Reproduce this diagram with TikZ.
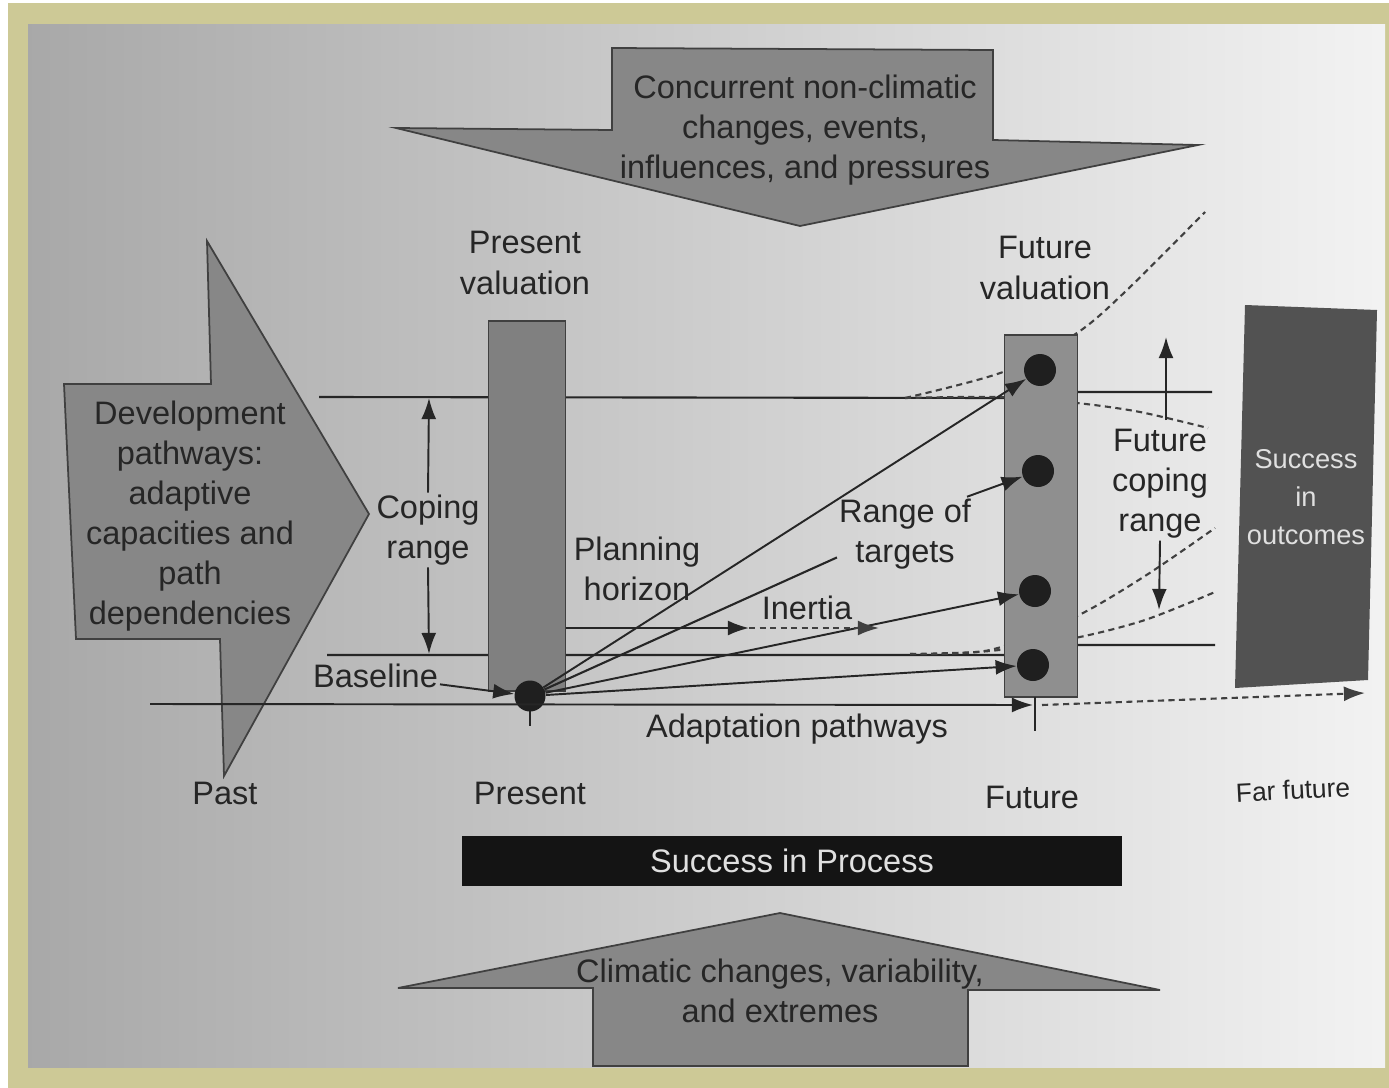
\documentclass[tikz,border=0pt]{standalone}
\usepackage{fontspec}
\setmainfont{Liberation Sans}
\usetikzlibrary{arrows,arrows.meta}
\definecolor{framekhaki}{RGB}{205,201,150}

\begin{document}
\begin{tikzpicture}[x=0.02cm,y=-0.02cm]
\tikzset{edge/.style = {-{Latex[length=12pt,width=8.5pt]}, line width=1.1pt, color=black!85},
  line/.style = {line width=1.2pt, draw=black!85},
  dashline/.style = {line width=1.2pt, draw=black!75, dash pattern=on 3.5pt off 2.5pt},
  blockarrow/.style = {draw=black!75, fill=black!47, line width=1pt},
  bar/.style = {draw=black!75, fill=black!50, line width=1pt, minimum width=1.54cm},
  dot/.style = {shape=circle, fill=black!88, minimum size=0.62cm, inner sep=0pt},
  lbl/.style = {align=center, font=\fontsize{18.5}{22.8}\selectfont, text=black!85, inner sep=1pt}}

\useasboundingbox (0,0) rectangle (1389,1088);
\fill[white] (0,0) rectangle (1389,1088);
\fill[framekhaki] (8,3) rectangle (1389,1088);
\shade[left color=black!34, middle color=black!24, right color=black!5] (28,25) rectangle (1385,1067);

\draw[blockarrow] (612,48) -- (993,50) -- (993,140) -- (1198,145) -- (800,226) -- (396,128) -- (612,130) -- cycle;
\draw[blockarrow] (64,384) -- (211,384) -- (207,241) -- (369,514) -- (224,776) -- (220,639) -- (76,639) -- cycle;
\draw[blockarrow] (593,1066) -- (593,988) -- (398,988) -- (780,913) -- (1160,990) -- (968,990) -- (968,1066) -- cycle;
\fill[black!68] (1245,305) -- (1377,310) -- (1368,680) -- (1235,688) -- cycle;

\coordinate (CT1) at (319,397);
\coordinate (CT2) at (1005,398);
\coordinate (CB1) at (327,655);
\coordinate (CB2) at (1005,655);
\coordinate (FT1) at (1078,392);
\coordinate (FT2) at (1212,392);
\coordinate (FB1) at (1075,645);
\coordinate (FB2) at (1215,645);
\coordinate (CopeUp) at (429,398);
\coordinate (CopeDown) at (429,654);
\coordinate (FutUp0) at (1166,420);
\coordinate (FutUp) at (1166,337);
\coordinate (FutDown) at (1159,610);
\coordinate (Axis0) at (150,704);
\coordinate (Axis1) at (1033,705);
\coordinate (Far0) at (1042,705);
\coordinate (Far1) at (1365,693);
\coordinate (NowTick) at (530,726);
\coordinate (FutTick0) at (1035,697);
\coordinate (FutTick1) at (1035,731);
\coordinate (Horizon0) at (566,628);
\coordinate (Horizon1) at (749,628);
\coordinate (Horizon2) at (879,628);

\draw[line] (CT1) -- (CT2) (CB1) -- (CB2) (FT1) -- (FT2) (FB1) -- (FB2);
\draw[dashline] plot[smooth] coordinates {(905,398) (1003,372) (1077,333) (1127,290) (1205,212)};
\draw[dashline] plot[smooth] coordinates {(905,398) (1000,397) (1077,403) (1140,412) (1208,428)};
\draw[dashline] plot[smooth] coordinates {(910,654) (990,650) (1075,617) (1145,576) (1215,528)};
\draw[dashline] plot[smooth] coordinates {(910,654) (990,651) (1075,638) (1145,620) (1215,592)};

\node[bar, minimum height=7.4cm] (PresentBar) at (527,506) {};
\node[bar, fill=black!44, minimum width=1.46cm, minimum height=7.24cm] (FutureBar) at (1041,516) {};

\draw[line] (FutTick0) -- (FutTick1);
\draw[line] (530,696) -- (NowTick);

\node[dot] (Now) at (530,696) {};
\node[dot, minimum size=0.64cm] (T1) at (1040,370) {};
\node[dot, minimum size=0.64cm] (T2) at (1038,471) {};
\node[dot, minimum size=0.64cm] (T3) at (1035,591) {};
\node[dot, minimum size=0.64cm] (T4) at (1033,665) {};

\node[lbl] (Concurrent) at (805,130) {Concurrent non-climatic\\changes, events,\\influences, and pressures};
\node[lbl] (Climatic) at (780,991) {Climatic changes, variability,\\and extremes};
\node[lbl] (Development) at (190,516) {Development\\pathways:\\adaptive\\capacities and\\path\\dependencies};
\node[lbl] (PresentVal) at (525,263) {Present\\valuation};
\node[lbl] (FutureVal) at (1045,268) {Future\\valuation};
\node[lbl] (Coping) at (428,530) {Coping\\range};
\node[lbl, anchor=east] (Baseline) at (440,676) {Baseline};
\node[lbl] (Planning) at (637,569) {Planning\\horizon};
\node[lbl] (Inertia) at (807,608) {Inertia};
\node[lbl] (Targets) at (905,534) {Range of\\targets};
\node[lbl] (FutCoping) at (1160,484) {Future\\coping\\range};
\node[lbl] (Adaptation) at (797,729) {Adaptation pathways};
\node[lbl] (Past) at (225,793) {Past};
\node[lbl] (Present) at (530,793) {Present};
\node[lbl] (Future) at (1032,797) {Future};
\node[lbl, font=\fontsize{15}{18}\selectfont, rotate=3] (FarFuture) at (1293,790) {Far future};
\node[lbl, font=\fontsize{15.5}{21.6}\selectfont, text=white!88!black] (Outcomes) at (1306,497) {Success\\in\\outcomes};
\node[fill=black!92, text=white!88!black, font=\fontsize{18.5}{22.8}\selectfont, minimum width=13.2cm, minimum height=1cm] (Process) at (792,861) {Success in Process};

\draw[line] (Now) -- (Targets.199);

\path [edge]

(Axis0) edge[] (Axis1)
(Baseline) edge[] (Now)
(Now) edge[] (T1)
(Now) edge[] (T3)
(Now) edge[] (T4)
(Targets.31) edge[] (T2)
(Coping.north) edge[] (CopeUp)
(Coping.south) edge[] (CopeDown)
(FutUp0) edge[] (FutUp)
(FutCoping.south) edge[] (FutDown)
(Horizon0) edge[] (Horizon1)
;

\path [edge, color=black!75]

(Horizon1) edge[dashline] (Horizon2)
(Far0) edge[dashline] (Far1)
;

\end{tikzpicture}
\end{document}
